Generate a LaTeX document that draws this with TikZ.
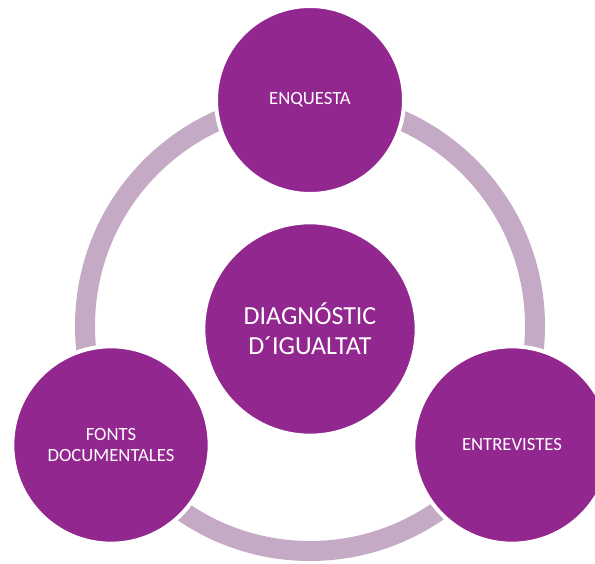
\documentclass[tikz,border=0pt]{standalone}
\usepackage{fontspec}
\setmainfont{Carlito}
\definecolor{diagpurple}{RGB}{146,39,143}
\definecolor{ringlilac}{RGB}{197,170,198}
\begin{document}
\begin{tikzpicture}[x=0.75pt,y=-0.75pt]
\tikzstyle{method} = [draw=white, line width=3pt, circle, fill=diagpurple, text=white, align=center, inner sep=0pt, font=\fontsize{14}{15.5}\selectfont];
\tikzstyle{core} = [method, font=\fontsize{19.5}{22.5}\selectfont];
\tikzstyle{ring} = [draw=ringlilac, line width=15pt];
\useasboundingbox (0,0) rectangle (595,563);
\coordinate (c) at (310,326);
\draw[ring] (c) circle (225);
\node[method, minimum size=141pt] (enquesta) at (310,100) {ENQUESTA};
\node[method, minimum size=148pt] (fonts) at (111,445) {FONTS\\DOCUMENTALES};
\node[method, minimum size=148pt] (entrevistes) at (512,445) {ENTREVISTES};
\node[core, minimum size=160pt] (diag) at (310,329) {DIAGNÓSTIC\\D´IGUALTAT};
\end{tikzpicture}
\end{document}
